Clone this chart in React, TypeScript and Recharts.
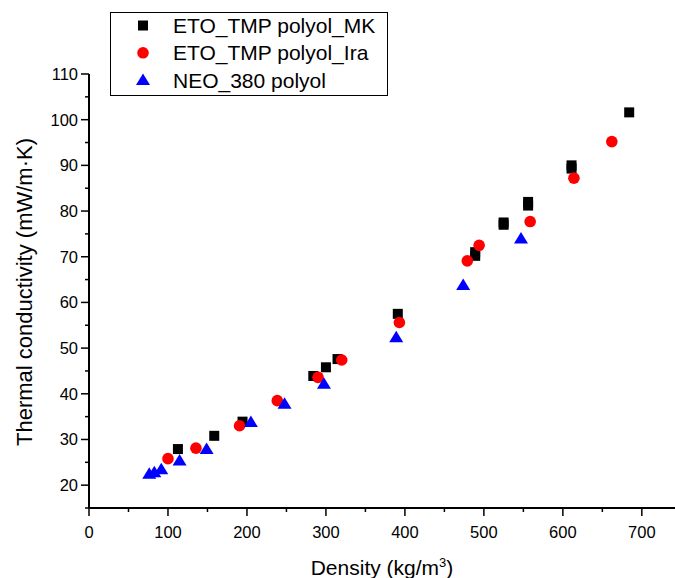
import { ScatterChart, Scatter, XAxis, YAxis } from 'recharts'

// ETO_TMP polyol_MK (black squares)
const mkDensity = [112.6, 158.6, 194.4, 284, 300, 314.7, 391, 489, 489, 525, 525, 556, 556, 611, 611, 684]
const mkConductivity = [27.9, 30.8, 33.9, 43.9, 45.8, 47.6, 57.5, 70.2, 71.0, 77.0, 77.5, 81.2, 82.0, 89.3, 90.0, 101.6]

// ETO_TMP polyol_Ira (red circles)
const iraDensity = [100, 135.4, 190.6, 238.4, 290, 320, 393, 479, 494, 558.6, 614, 662]
const iraConductivity = [25.8, 28.1, 33.0, 38.5, 43.6, 47.4, 55.6, 69.1, 72.5, 77.7, 87.2, 95.2]

// NEO_380 polyol (blue triangles)
const neoDensity = [76.3, 82.7, 91.5, 114.7, 148.9, 205, 247.6, 297.5, 389, 473.8, 547]
const neoConductivity = [22.5, 22.8, 23.5, 25.4, 27.9, 33.8, 37.8, 42.2, 52.4, 63.8, 74.0]

const xTicks = [0, 50, 100, 150, 200, 250, 300, 350, 400, 450, 500, 550, 600, 650, 700]
const yTicks = [15, 20, 25, 30, 35, 40, 45, 50, 55, 60, 65, 70, 75, 80, 85, 90, 95, 100, 105, 110]

const FONT = 'Arial, "Liberation Sans", sans-serif'

const toPoints = (xs: number[], ys: number[]) => xs.map((x, i) => ({ x, y: ys[i] }))

const SquareShape = (p: any) => <rect x={p.cx - 5} y={p.cy - 5} width={10} height={10} fill="#000" />
const CircleShape = (p: any) => <circle cx={p.cx} cy={p.cy} r={5.8} fill="#ff0000" />
const TriangleShape = (p: any) => (
  <polygon points={`${p.cx},${p.cy - 6.5} ${p.cx + 7},${p.cy + 5} ${p.cx - 7},${p.cy + 5}`} fill="#0000ff" />
)

function XTick({ x, y, payload }: any) {
  const major = payload.value % 100 === 0
  return (
    <g>
      <line x1={x} x2={x} y1={y} y2={y + (major ? 8 : 4)} stroke="#000" strokeWidth={1.5} />
      {major && (
        <text x={x} y={y + 30} textAnchor="middle" fontSize={16.5} fontFamily={FONT} fill="#000">
          {payload.value}
        </text>
      )}
    </g>
  )
}

function YTick({ x, y, payload }: any) {
  const major = payload.value % 10 === 0
  return (
    <g>
      <line x1={x} x2={x - (major ? 8 : 4)} y1={y} y2={y} stroke="#000" strokeWidth={1.5} />
      {major && (
        <text x={x - 11} y={y + 6} textAnchor="end" fontSize={16.5} fontFamily={FONT} fill="#000">
          {payload.value}
        </text>
      )}
    </g>
  )
}

const legendItems = [
  { name: 'ETO_TMP polyol_MK', shape: 'square' },
  { name: 'ETO_TMP polyol_Ira', shape: 'circle' },
  { name: 'NEO_380 polyol', shape: 'triangle' },
]

function LegendBox() {
  return (
    <div
      style={{
        position: 'absolute',
        left: 110,
        top: 12,
        width: 278,
        height: 84,
        border: '1px solid #000',
        boxSizing: 'border-box',
        background: '#fff',
      }}
    >
      <svg width={276} height={82} style={{ display: 'block' }}>
        {legendItems.map((it, i) => {
          const cy = 12.5 + i * 27.3
          const cx = 32
          return (
            <g key={it.name}>
              {it.shape === 'square' && <rect x={cx - 5} y={cy - 5} width={10} height={10} fill="#000" />}
              {it.shape === 'circle' && <circle cx={cx} cy={cy} r={5.8} fill="#ff0000" />}
              {it.shape === 'triangle' && (
                <polygon points={`${cx},${cy - 6.5} ${cx + 7},${cy + 5} ${cx - 7},${cy + 5}`} fill="#0000ff" />
              )}
              <text x={62} y={cy + 7.5} fontSize={21} fontFamily={FONT} fill="#000">
                {it.name}
              </text>
            </g>
          )
        })}
      </svg>
    </div>
  )
}

export default function App() {
  return (
    <div style={{ position: 'absolute', left: 0, top: 0, width: 675, height: 578, background: '#fff' }}>
      <ScatterChart width={675} height={578} margin={{ top: 74, right: 0, bottom: 0, left: 29 }}>
        <XAxis
          type="number"
          dataKey="x"
          domain={[0, 742]}
          ticks={xTicks}
          interval={0}
          height={70}
          tickSize={0}
          tickMargin={0}
          tickLine={false}
          tick={<XTick />}
          axisLine={{ stroke: '#000', strokeWidth: 2 }}
          label={{
            content: (props: any) => {
              const vb = props.viewBox
              return (
                <text x={vb.x + vb.width / 2} y={575} textAnchor="middle" fontSize={21} fontFamily={FONT} fill="#000">
                  Density (kg/m<tspan dy={-8} fontSize={13}>3</tspan><tspan dy={8}>)</tspan>
                </text>
              )
            },
          }}
        />
        <YAxis
          type="number"
          dataKey="y"
          domain={[15, 110]}
          ticks={yTicks}
          interval={0}
          width={60}
          tickSize={0}
          tickMargin={0}
          tickLine={false}
          tick={<YTick />}
          axisLine={{ stroke: '#000', strokeWidth: 2 }}
          label={{
            content: () => (
              <text
                x={0}
                y={0}
                transform="translate(32, 292) rotate(-90)"
                textAnchor="middle"
                fontSize={22}
                fontFamily={FONT}
                fill="#000"
              >
                Thermal conductivity (mW/m·K)
              </text>
            ),
          }}
        />
        <Scatter name="ETO_TMP polyol_MK" data={toPoints(mkDensity, mkConductivity)} shape={SquareShape} isAnimationActive={false} />
        <Scatter name="ETO_TMP polyol_Ira" data={toPoints(iraDensity, iraConductivity)} shape={CircleShape} isAnimationActive={false} />
        <Scatter name="NEO_380 polyol" data={toPoints(neoDensity, neoConductivity)} shape={TriangleShape} isAnimationActive={false} />
      </ScatterChart>
      <LegendBox />
    </div>
  )
}
